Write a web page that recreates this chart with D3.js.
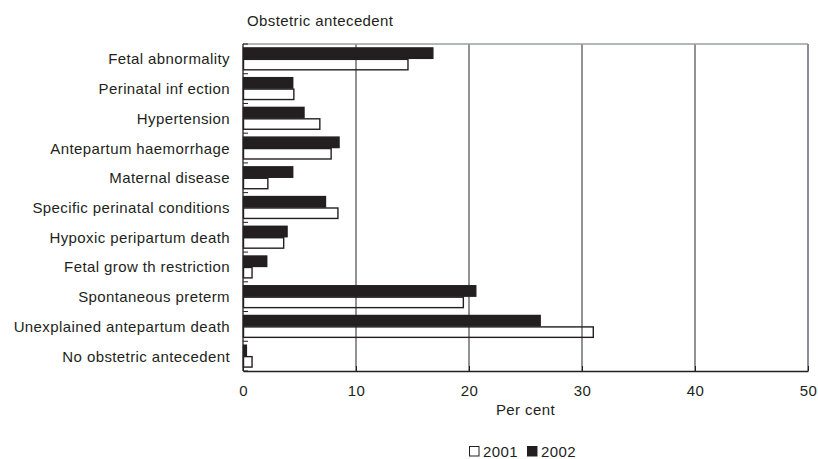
<!DOCTYPE html>
<html><head><meta charset="utf-8">
<script src="https://cdn.jsdelivr.net/npm/d3@7"></script>
<style>
html,body{margin:0;padding:0;background:#fff;}
svg text{font-family:"Liberation Sans",Arial,sans-serif;font-size:15px;fill:#231f20;letter-spacing:0.4px;}
</style></head>
<body>
<svg id="chart" width="818" height="459"></svg>
<script>
const categories = ["Fetal abnormality","Perinatal inf ection","Hypertension","Antepartum haemorrhage","Maternal disease","Specific perinatal conditions","Hypoxic peripartum death","Fetal grow th restriction","Spontaneous preterm","Unexplained antepartum death","No obstetric antecedent"];
const series = ["2002","2001"];
const values2002 = [16.8,4.4,5.4,8.5,4.4,7.3,3.9,2.1,20.6,26.3,0.3];
const values2001 = [14.6,4.5,6.8,7.8,2.2,8.4,3.6,0.8,19.5,31.0,0.8];
const xTicks = [0,10,20,30,40,50];
const legendLabels = ["2001","2002"];

const svg = d3.select("#chart");
const L = 243, R = 808, T = 44, B = 371;
const x = d3.scaleLinear().domain([0,50]).range([L,R]);
const y = d3.scaleBand().domain(categories).range([T,B]).paddingInner(0.23).paddingOuter(0.115);
const ys = d3.scaleBand().domain(series).range([0,y.bandwidth()]);
const colors = {"2002":"#231f20","2001":"none"};

// gridlines
svg.append("g").selectAll("line").data([10,20,30,40]).join("line")
  .attr("x1",d=>x(d)).attr("x2",d=>x(d)).attr("y1",T).attr("y2",B)
  .attr("stroke","#4a4a4a").attr("stroke-width",1.2);
// top & right border
svg.append("line").attr("x1",L).attr("x2",R).attr("y1",T).attr("y2",T).attr("stroke","#9a9ea3").attr("stroke-width",1.5);
svg.append("line").attr("x1",R).attr("x2",R).attr("y1",T).attr("y2",B).attr("stroke","#8a8d91").attr("stroke-width",2);

// bars
const rows = categories.map((c,i)=>({c, v:{"2002":values2002[i],"2001":values2001[i]}}));
const g = svg.append("g");
rows.forEach(r=>{
  series.forEach(s=>{
    g.append("rect")
      .attr("x",x(0)+0.5).attr("y",y(r.c)+ys(s)+0.5)
      .attr("width",Math.max(0,x(r.v[s])-x(0)-0.5)).attr("height",ys.bandwidth()-1)
      .attr("fill",colors[s]).attr("stroke","#231f20").attr("stroke-width",1.4);
  });
});

// left axis with inward ticks at band boundaries
svg.append("line").attr("x1",L).attr("x2",L).attr("y1",T).attr("y2",B).attr("stroke","#231f20").attr("stroke-width",1.3);
const step = y.step();
svg.append("g").selectAll("line").data(d3.range(categories.length+1)).join("line")
  .attr("x1",L).attr("x2",L+5).attr("y1",i=>T+i*step).attr("y2",i=>T+i*step)
  .attr("stroke","#231f20").attr("stroke-width",1);
svg.append("g").selectAll("text").data(categories).join("text")
  .attr("x",230).attr("y",d=>y(d)+y.bandwidth()/2+5.5).attr("text-anchor","end").text(d=>d);

// bottom axis
const xAxis = d3.axisBottom(x).tickValues(xTicks).tickSizeInner(-5).tickSizeOuter(0).tickPadding(14);
const ax = svg.append("g").attr("transform",`translate(0,${B})`).call(xAxis);
ax.select(".domain").attr("stroke","#231f20").attr("stroke-width",1.3);
ax.selectAll(".tick line").attr("stroke","#231f20");
ax.selectAll(".tick text").attr("font-family",null).attr("font-size",null).attr("fill","#231f20");

svg.append("text").attr("x",(L+R)/2).attr("y",415).attr("text-anchor","middle").text("Per cent");
svg.append("text").attr("x",247).attr("y",26).text("Obstetric antecedent");

// legend
const lg = svg.append("g");
const legendFill = {"2001":"#fff","2002":"#231f20"};
let lx = 469;
legendLabels.forEach(lbl=>{
  lg.append("rect").attr("x",lx+0.5).attr("y",446.5).attr("width",9.5).attr("height",9.5)
    .attr("fill",legendFill[lbl]).attr("stroke","#231f20").attr("stroke-width",1);
  const t = lg.append("text").attr("x",lx+14).attr("y",457).text(lbl);
  lx += 14 + t.node().getComputedTextLength() + 9;
});
</script>
</body></html>
